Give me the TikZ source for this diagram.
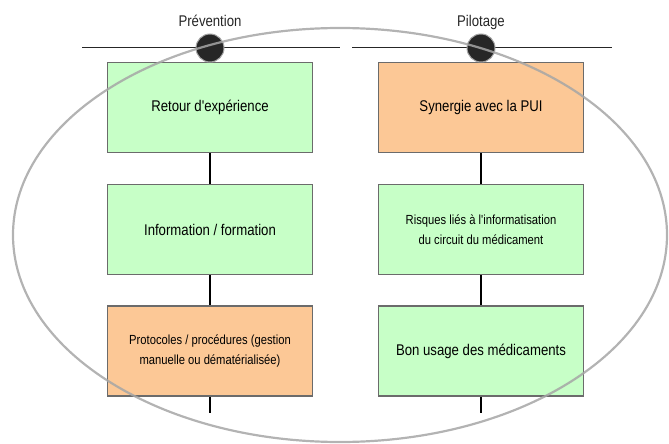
\documentclass[tikz,border=0pt]{standalone}
\usepackage{fontspec}
\setmainfont{Liberation Sans}
\newfontfamily\narrowsans[FakeStretch=0.85]{Liberation Sans}
\begin{document}
\begin{tikzpicture}[x=1pt,y=-1pt,
  card/.style={draw=black!58, line width=1.6pt, minimum width=205pt, minimum height=90pt,
    inner sep=2pt, align=center, font=\narrowsans\fontsize{15.5}{18}\selectfont},
  cardsmall/.style={card, font=\narrowsans\fontsize{13.2}{20}\selectfont},
  greencard/.style={fill=green!22!white},
  orangecard/.style={fill={rgb,255:red,252;green,200;blue,150}},
  hub/.style={circle, fill=black!85, draw=black!35, line width=1pt, minimum size=28pt, inner sep=0pt},
  link/.style={line width=1.6pt, black},
  axis/.style={line width=1pt, black!85},
  lbl/.style={font=\narrowsans\fontsize{15.5}{18}\selectfont, text=black!85, anchor=base}
]
\useasboundingbox (0,0) rectangle (669,444);

% column axes
\coordinate (la) at (82,48);
\coordinate (lb) at (340,48);
\coordinate (ra) at (352,48);
\coordinate (rb) at (612,48);
\draw[axis] (la) -- (lb);
\draw[axis] (ra) -- (rb);

% left column: prevention
\node[card, greencard] (p1) at (210,107.5) {Retour d'expérience};
\node[card, greencard] (p2) at (210,229.5) {Information / formation};
\node[cardsmall, orangecard] (p3) at (210,351) {Protocoles / procédures (gestion\\manuelle ou dématérialisée)};
\coordinate (pend) at (210,413);

% right column: pilotage
\node[card, orangecard] (q1) at (481,107.5) {Synergie avec la PUI};
\node[cardsmall, greencard] (q2) at (481,229.5) {Risques liés à l'informatisation\\du circuit du médicament};
\node[card, greencard] (q3) at (481,351) {Bon usage des médicaments};
\coordinate (qend) at (481,413);

% links between cards
\draw[link] (p1) -- (p2);
\draw[link] (p2) -- (p3);
\draw[link] (p3.south) -- (pend);
\draw[link] (q1) -- (q2);
\draw[link] (q2) -- (q3);
\draw[link] (q3.south) -- (qend);

% hubs and headings
\node[hub] (hp) at (210,48) {};
\node[hub] (hq) at (481,48) {};
\node[lbl] (tp) at (210,26.5) {Prévention};
\node[lbl] (tq) at (481,26.5) {Pilotage};

% enclosing ellipse
\draw[black!35, line width=2.2pt, opacity=0.85] (340,235) ellipse [x radius=327, y radius=207];
\end{tikzpicture}
\end{document}
